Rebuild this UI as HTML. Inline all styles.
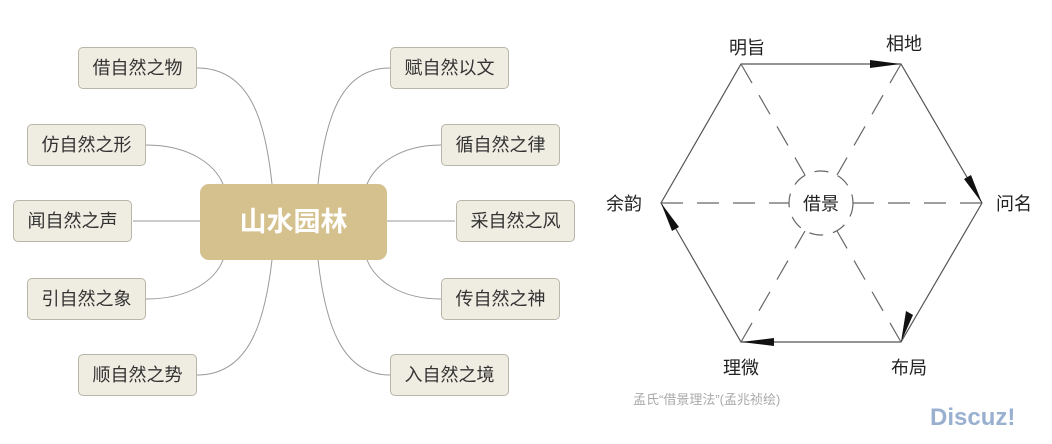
<!DOCTYPE html>
<html><head><meta charset="utf-8"><style>
body{margin:0;width:1052px;height:444px;background:#fff;position:relative;overflow:hidden;font-family:"Liberation Sans","Noto Sans CJK SC",sans-serif}
.b{position:absolute;width:119px;height:42px;background:#efece1;border:1px solid #b9b5a8;border-radius:5px;box-sizing:border-box;text-align:center;line-height:40px;font-size:18px;color:#333}
.c{position:absolute;left:200px;top:184px;width:187px;height:76px;background:#d5c18d;border-radius:9px;color:#fff;font-size:27px;font-weight:bold;text-align:center;line-height:76px}
.t{position:absolute;font-size:18px;color:#222}
svg{position:absolute;left:0;top:0}
</style></head><body>
<svg width="1052" height="444">
<g fill="none" stroke="#999" stroke-width="1">
<path d="M197,68 C250,68 265,120 272,184"/>
<path d="M146,145 C190,145 215,165 223,184"/>
<path d="M133,221 L200,221"/>
<path d="M146,299 C190,299 215,280 223,260"/>
<path d="M197,375 C250,375 265,320 272,260"/>
<path d="M390,68 C340,68 325,120 318,184"/>
<path d="M441,145 C400,145 375,165 367,184"/>
<path d="M455,221 L387,221"/>
<path d="M441,299 C400,299 375,280 367,260"/>
<path d="M390,375 C340,375 325,320 318,260"/>
</g>
<g stroke="#555" stroke-width="1.2" fill="none">
<polygon points="741,64 901,64 982,203 901,342 741,342 661,203"/>
</g>
<g stroke="#666" stroke-width="1.2" stroke-dasharray="22,14" fill="none">
<line x1="741" y1="64" x2="805" y2="175"/>
<line x1="901" y1="64" x2="837" y2="175"/>
<line x1="661" y1="203" x2="789" y2="203"/>
<line x1="982" y1="203" x2="853" y2="203"/>
<line x1="741" y1="342" x2="805" y2="231"/>
<line x1="901" y1="342" x2="837" y2="231"/>
<circle cx="821" cy="203" r="32" stroke-dasharray="14,10"/>
</g>
<g fill="#111">
<polygon points="901,64 870,60 870,68"/>
<polygon points="982,203 964,179 971,175"/>
<polygon points="901,342 906,311 913,315"/>
<polygon points="741,342 774,338 774,346"/>
<polygon points="661,203 679,227 672,231"/>
</g>
</svg>
<div class="b" style="left:78px;top:47px">借自然之物</div>
<div class="b" style="left:27px;top:124px">仿自然之形</div>
<div class="b" style="left:13px;top:200px">闻自然之声</div>
<div class="b" style="left:27px;top:278px">引自然之象</div>
<div class="b" style="left:78px;top:354px">顺自然之势</div>
<div class="b" style="left:390px;top:47px">赋自然以文</div>
<div class="b" style="left:441px;top:124px">循自然之律</div>
<div class="b" style="left:456px;top:200px">采自然之风</div>
<div class="b" style="left:441px;top:278px">传自然之神</div>
<div class="b" style="left:390px;top:354px">入自然之境</div>
<div class="c">山水园林</div>
<div class="t" style="left:729px;top:34px">明旨</div>
<div class="t" style="left:886px;top:30px">相地</div>
<div class="t" style="left:996px;top:190px">问名</div>
<div class="t" style="left:606px;top:190px">余韵</div>
<div class="t" style="left:803px;top:190px">借景</div>
<div class="t" style="left:723px;top:354px">理微</div>
<div class="t" style="left:891px;top:354px">布局</div>
<div style="position:absolute;font-size:13px;color:#aaa;left:633px;top:389px">孟氏“借景理法”(孟兆祯绘)</div>
<div style="position:absolute;font-size:24px;color:#9ab0d0;left:930px;top:404px;font-weight:bold">Discuz!</div>
</body></html>
